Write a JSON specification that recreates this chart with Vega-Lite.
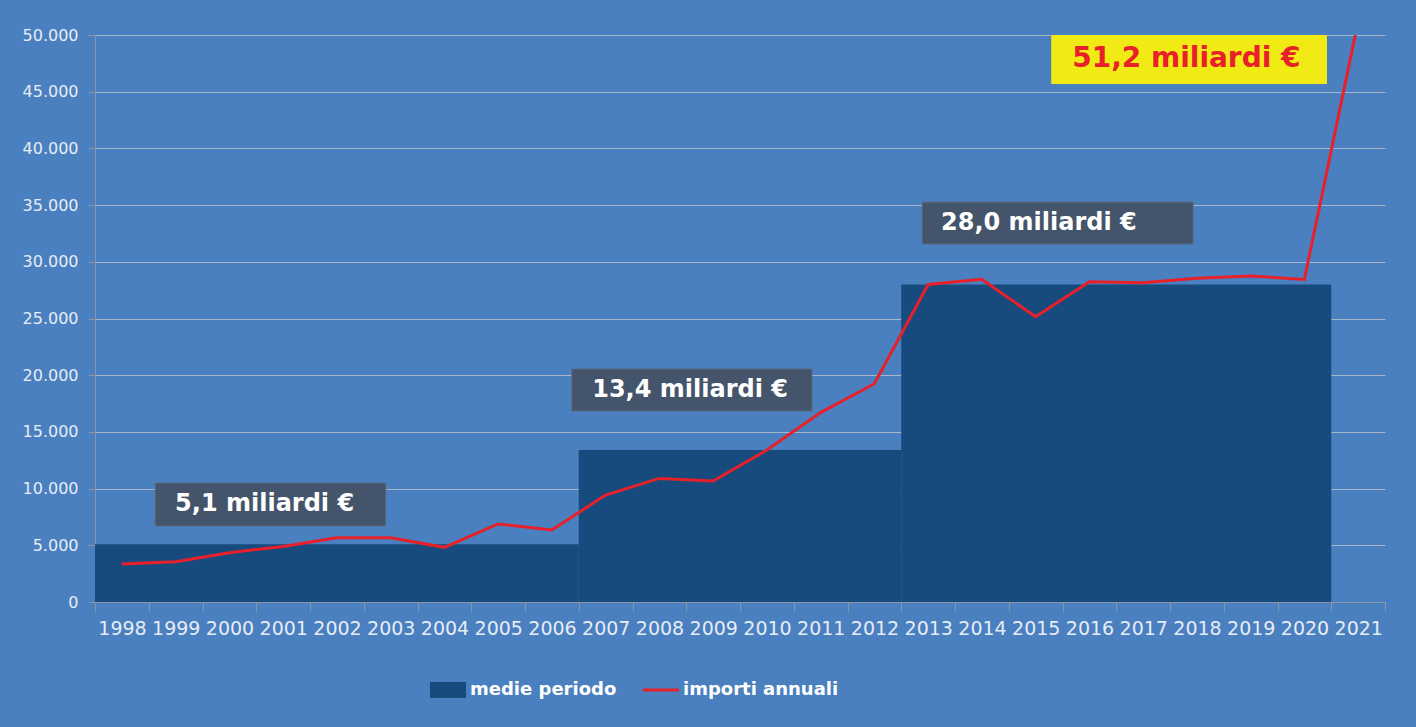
{
  "$schema": "https://vega.github.io/schema/vega-lite/v6.json",
  "width": 1290,
  "height": 567,
  "autosize": {"type": "none"},
  "padding": {"left": 95, "top": 35, "right": 31, "bottom": 125},
  "background": "#4a80bf",
  "config": {
    "view": {"stroke": null},
    "axis": {
      "domainColor": "#8c96a3",
      "tickColor": "#8c96a3",
      "gridColor": "#a8b5c8",
      "labelColor": "#e6ecf5",
      "labelFont": "DejaVu Sans",
      "title": null
    }
  },
  "datasets": {
    "medie": [
      {"inizio": 1997.5, "fine": 2006.5, "media": 5100},
      {"inizio": 2006.5, "fine": 2012.5, "media": 13400},
      {"inizio": 2012.5, "fine": 2020.5, "media": 28000}
    ],
    "annuali": [
      {"anno": 1998, "importo": 3350},
      {"anno": 1999, "importo": 3550},
      {"anno": 2000, "importo": 4350},
      {"anno": 2001, "importo": 4900},
      {"anno": 2002, "importo": 5670},
      {"anno": 2003, "importo": 5670},
      {"anno": 2004, "importo": 4820},
      {"anno": 2005, "importo": 6880},
      {"anno": 2006, "importo": 6350},
      {"anno": 2007, "importo": 9430},
      {"anno": 2008, "importo": 10900},
      {"anno": 2009, "importo": 10670},
      {"anno": 2010, "importo": 13400},
      {"anno": 2011, "importo": 16700},
      {"anno": 2012, "importo": 19250},
      {"anno": 2013, "importo": 28000},
      {"anno": 2014, "importo": 28450},
      {"anno": 2015, "importo": 25150},
      {"anno": 2016, "importo": 28250},
      {"anno": 2017, "importo": 28150},
      {"anno": 2018, "importo": 28550},
      {"anno": 2019, "importo": 28750},
      {"anno": 2020, "importo": 28450},
      {"anno": 2021, "importo": 51200}
    ]
  },
  "layer": [
    {
      "data": {"name": "medie"},
      "mark": {"type": "rect"},
      "encoding": {
        "x": {
          "field": "inizio",
          "type": "quantitative",
          "scale": {"domain": [1997.5, 2021.5], "nice": false, "zero": false},
          "axis": {
            "values": [1997.5, 1998.5, 1999.5, 2000.5, 2001.5, 2002.5, 2003.5, 2004.5, 2005.5, 2006.5, 2007.5, 2008.5, 2009.5, 2010.5, 2011.5, 2012.5, 2013.5, 2014.5, 2015.5, 2016.5, 2017.5, 2018.5, 2019.5, 2020.5, 2021.5],
            "labelExpr": "datum.value < 2021 ? format(datum.value + 0.5, 'd') : ''",
            "labelOffset": 27,
            "labelAlign": "center",
            "labelFlush": false,
            "labelBound": false,
            "labelOverlap": false,
            "labelFontSize": 19,
            "labelPadding": 8,
            "tickSize": 9,
            "grid": false
          }
        },
        "x2": {"field": "fine"},
        "y": {
          "field": "media",
          "type": "quantitative",
          "scale": {"domain": [0, 50000], "nice": false},
          "axis": {
            "values": [0, 5000, 10000, 15000, 20000, 25000, 30000, 35000, 40000, 45000, 50000],
            "labelExpr": "replace(format(datum.value, ','), ',', '.')",
            "labelFontSize": 16,
            "labelPadding": 10,
            "tickSize": 7,
            "grid": true
          }
        },
        "y2": {"datum": 0},
        "color": {
          "datum": "medie periodo",
          "scale": {"domain": ["medie periodo", "importi annuali"], "range": ["#174a7d", "#e8202a"]},
          "legend": {
            "orient": "none",
            "legendX": 344,
            "legendY": 646,
            "direction": "horizontal",
            "title": null,
            "labelColor": "white",
            "labelFont": "DejaVu Sans",
            "labelFontWeight": "bold",
            "labelFontSize": 18,
            "symbolSize": 1296,
            "columnPadding": 20,
            "labelOffset": 13,
            "padding": 0,
            "encode": {
              "symbols": {
                "update": {
                  "shape": {"signal": "datum.value === 'medie periodo' ? 'M-1,-0.44H1V0.44H-1Z' : 'M-1,0H1'"},
                  "fill": {"signal": "datum.value === 'medie periodo' ? '#174a7d' : 'transparent'"},
                  "stroke": {"signal": "datum.value === 'medie periodo' ? '#174a7d' : '#e8202a'"},
                  "strokeWidth": {"signal": "datum.value === 'medie periodo' ? 0 : 3"},
                  "opacity": {"value": 1}
                }
              }
            }
          }
        }
      }
    },
    {
      "data": {"name": "annuali"},
      "mark": {"type": "line", "strokeWidth": 3, "clip": true},
      "encoding": {
        "x": {"field": "anno", "type": "quantitative"},
        "y": {"field": "importo", "type": "quantitative"},
        "color": {"datum": "importi annuali"}
      }
    },
    {
      "data": {"values": [{}]},
      "mark": {"type": "rect", "fill": "#44546a", "stroke": "#5b6b82", "strokeWidth": 1},
      "encoding": {
        "x": {"datum": 1998.62, "type": "quantitative"},
        "x2": {"datum": 2002.91},
        "y": {"datum": 6700, "type": "quantitative"},
        "y2": {"datum": 10490}
      }
    },
    {
      "data": {"values": [{}]},
      "mark": {"type": "text", "text": "5,1 miliardi €", "align": "left", "baseline": "middle", "font": "DejaVu Sans", "fontWeight": "bold", "fontSize": 24, "color": "white"},
      "encoding": {
        "x": {"datum": 1998.99, "type": "quantitative"},
        "y": {"datum": 8600, "type": "quantitative"}
      }
    },
    {
      "data": {"values": [{}]},
      "mark": {"type": "rect", "fill": "#44546a", "stroke": "#5b6b82", "strokeWidth": 1},
      "encoding": {
        "x": {"datum": 2006.37, "type": "quantitative"},
        "x2": {"datum": 2010.84},
        "y": {"datum": 16840, "type": "quantitative"},
        "y2": {"datum": 20550}
      }
    },
    {
      "data": {"values": [{}]},
      "mark": {"type": "text", "text": "13,4 miliardi €", "align": "left", "baseline": "middle", "font": "DejaVu Sans", "fontWeight": "bold", "fontSize": 24, "color": "white"},
      "encoding": {
        "x": {"datum": 2006.75, "type": "quantitative"},
        "y": {"datum": 18700, "type": "quantitative"}
      }
    },
    {
      "data": {"values": [{}]},
      "mark": {"type": "rect", "fill": "#44546a", "stroke": "#5b6b82", "strokeWidth": 1},
      "encoding": {
        "x": {"datum": 2012.89, "type": "quantitative"},
        "x2": {"datum": 2017.93},
        "y": {"datum": 31570, "type": "quantitative"},
        "y2": {"datum": 35270}
      }
    },
    {
      "data": {"values": [{}]},
      "mark": {"type": "text", "text": "28,0 miliardi €", "align": "left", "baseline": "middle", "font": "DejaVu Sans", "fontWeight": "bold", "fontSize": 24, "color": "white"},
      "encoding": {
        "x": {"datum": 2013.24, "type": "quantitative"},
        "y": {"datum": 33420, "type": "quantitative"}
      }
    },
    {
      "data": {"values": [{}]},
      "mark": {"type": "rect", "fill": "#f2ea14"},
      "encoding": {
        "x": {"datum": 2015.29, "type": "quantitative"},
        "x2": {"datum": 2020.42},
        "y": {"datum": 45680, "type": "quantitative"},
        "y2": {"datum": 50000}
      }
    },
    {
      "data": {"values": [{}]},
      "mark": {"type": "text", "text": "51,2 miliardi €", "align": "left", "baseline": "middle", "font": "DejaVu Sans", "fontWeight": "bold", "fontSize": 28, "color": "#e8202a"},
      "encoding": {
        "x": {"datum": 2015.68, "type": "quantitative"},
        "y": {"datum": 47850, "type": "quantitative"}
      }
    }
  ]
}
